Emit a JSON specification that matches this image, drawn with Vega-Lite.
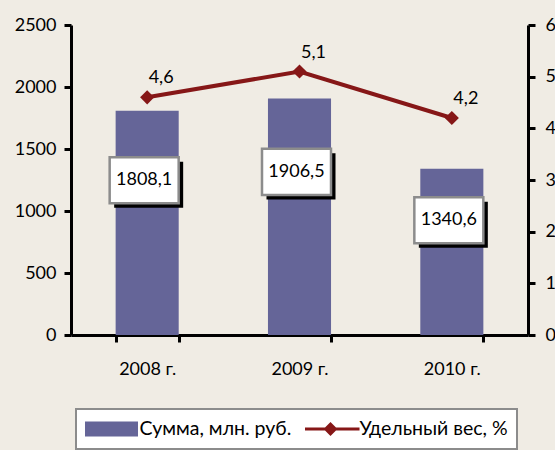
{
  "$schema": "https://vega.github.io/schema/vega-lite/v6.json",
  "width": 457,
  "height": 310,
  "autosize": "none",
  "padding": {"left": 71, "top": 25, "right": 27, "bottom": 115},
  "background": "#f0ece4",
  "config": {
    "view": {"stroke": null},
    "font": "Lato",
    "locale": {"number": {"decimal": ",", "thousands": "", "grouping": [3], "currency": ["", ""]}},
    "axis": {
      "domainColor": "black", "domainWidth": 3, "tickColor": "black", "tickWidth": 3, "tickSize": 7,
      "labelFont": "Lato", "labelFontSize": 18, "labelColor": "black", "grid": false, "title": null
    },
    "legend": {"strokeWidth": 2}
  },
  "data": {"values": [
    {"year": "2008 г.", "sum": 1808.1, "pct": 4.6},
    {"year": "2009 г.", "sum": 1906.5, "pct": 5.1},
    {"year": "2010 г.", "sum": 1340.6, "pct": 4.2}
  ]},
  "encoding": {
    "x": {
      "field": "year", "type": "nominal", "sort": null,
      "scale": {"paddingInner": 0.586, "paddingOuter": 0.293},
      "axis": {
        "labelAngle": 0, "tickBand": "extent", "labelPadding": 18,
        "encode": {"ticks": {"update": {"y": {"value": -7}, "y2": {"value": 7}}}}
      }
    }
  },
  "layer": [
    {
      "transform": [{"calculate": "datum.sum * 0.69", "as": "lab"}],
      "layer": [
        {
          "mark": {"type": "bar", "color": "#656598"},
          "encoding": {"y": {"field": "sum", "type": "quantitative",
            "scale": {"domain": [0, 2500], "nice": false},
            "axis": {"orient": "left", "values": [0, 500, 1000, 1500, 2000, 2500], "format": "d", "labelPadding": 8,
              "encode": {"ticks": {"update": {"x": {"value": 7}, "x2": {"value": -7}}}}}}}
        },
        {
          "mark": {"type": "point", "shape": "M-1,-0.667H1V0.667H-1Z", "size": 4761, "filled": true, "fill": "black", "opacity": 1, "xOffset": 1.5, "yOffset": 4.5},
          "encoding": {"y": {"field": "lab", "type": "quantitative"}}
        },
        {
          "mark": {"type": "point", "shape": "M-1,-0.667H1V0.667H-1Z", "size": 4761, "filled": true, "fill": "white", "stroke": "#8c8c8c", "strokeWidth": 2.5, "opacity": 1, "xOffset": -3},
          "encoding": {"y": {"field": "lab", "type": "quantitative"}}
        },
        {
          "mark": {"type": "text", "fontSize": 18, "font": "Lato", "color": "black", "xOffset": -3},
          "encoding": {
            "y": {"field": "lab", "type": "quantitative"},
            "text": {"field": "sum", "type": "quantitative", "format": ".1f"}
          }
        }
      ]
    },
    {
      "layer": [
        {
          "mark": {"type": "line", "color": "#861717", "strokeWidth": 4},
          "encoding": {"y": {"field": "pct", "type": "quantitative",
            "scale": {"domain": [0, 6], "nice": false},
            "axis": {"orient": "right", "values": [0, 1, 2, 3, 4, 5, 6], "format": "d", "labelPadding": 10,
              "encode": {"ticks": {"update": {"x": {"value": -7}, "x2": {"value": 7}}}}}}}
        },
        {
          "mark": {"type": "point", "shape": "diamond", "filled": true, "size": 200, "color": "#861717", "opacity": 1},
          "encoding": {"y": {"field": "pct", "type": "quantitative"}}
        },
        {
          "mark": {"type": "text", "fontSize": 18, "font": "Lato", "color": "black", "dx": 14, "dy": -19},
          "encoding": {
            "y": {"field": "pct", "type": "quantitative"},
            "text": {"field": "pct", "type": "quantitative", "format": ".1f"}
          }
        }
      ]
    },
    {
      "transform": [{"filter": "false"}],
      "mark": {"type": "point", "filled": true, "opacity": 1},
      "encoding": {
        "color": {"field": "s", "type": "nominal",
          "scale": {"domain": ["Сумма, млн. руб.", "Удельный вес, %"], "range": ["#656598", "#861717"]},
          "legend": {"title": null, "orient": "none", "legendX": 5, "legendY": 384, "direction": "horizontal", "columns": 2,
            "symbolSize": 3600, "symbolStrokeWidth": 0, "symbolOpacity": 1, "symbolOffset": -4.5, "clipHeight": 22,
            "labelFont": "Lato", "labelFontSize": 19.5, "labelColor": "black",
            "labelOffset": -1, "columnPadding": 13, "padding": 9, "fillColor": "white", "strokeColor": "#8c8c8c"}},
        "shape": {"field": "s", "type": "nominal",
          "scale": {"domain": ["Сумма, млн. руб.", "Удельный вес, %"],
            "range": ["M-0.917,-0.25H0.917V0.25H-0.917Z", "M-0.967,-0.05H0.967V0.05H-0.967Z M0,-0.233L0.233,0L0,0.233L-0.233,0Z"]}}
      }
    }
  ],
  "resolve": {"scale": {"y": "independent"}}
}
